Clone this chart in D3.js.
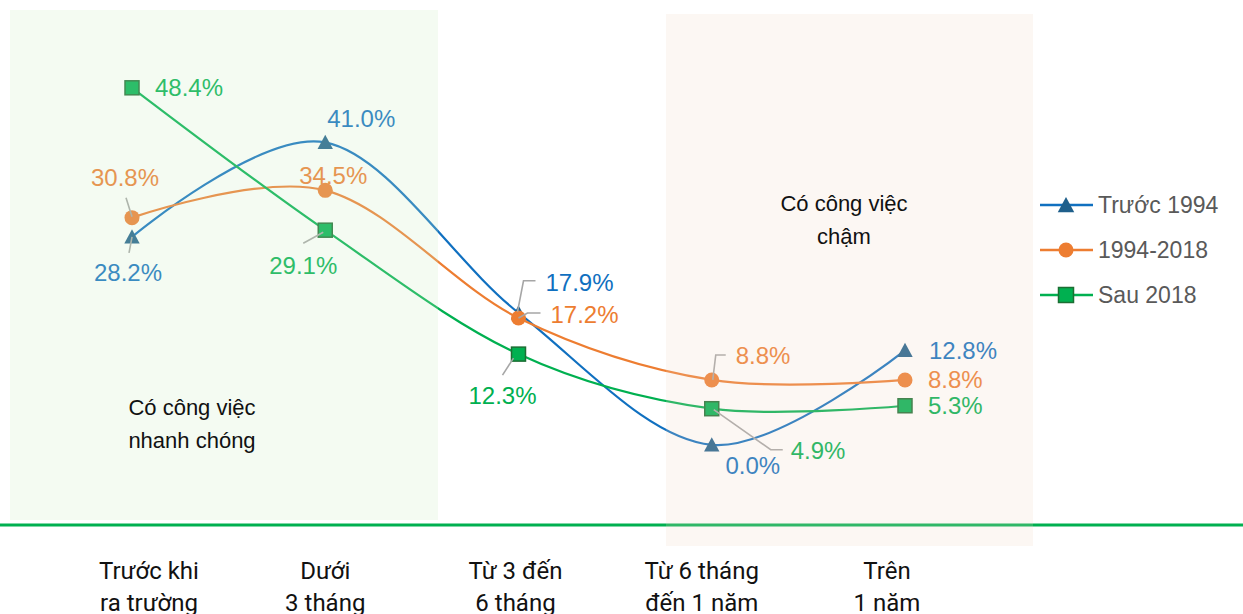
<!DOCTYPE html>
<html>
<head>
<meta charset="utf-8">
<script src="https://cdn.jsdelivr.net/npm/d3@7"></script>
<style>
  body { margin: 0; background: #fff; }
  svg { display: block; font-family: "Liberation Sans", Arial, sans-serif; }
</style>
</head>
<body>
<svg width="1243" height="614"></svg>
<script>
// data (%)
const categories = ['Trước khi\nra trường', 'Dưới\n3 tháng', 'Từ 3 đến\n6 tháng', 'Từ 6 tháng\nđến 1 năm', 'Trên\n1 năm'];
const seriesNames = ['Trước 1994', '1994-2018', 'Sau 2018'];
const truoc1994 = [28.2, 41.0, 17.9, 0.0, 12.8];
const giai1994_2018 = [30.8, 34.5, 17.2, 8.8, 8.8];
const sau2018 = [48.4, 29.1, 12.3, 4.9, 5.3];
const panelTexts = ['Có công việc\nnhanh chóng', 'Có công việc\nchậm'];

// label placement [dx, dy, anchor, leader points relative to marker]
const labelLayout = [
  [[-4, 36, 'middle', [[0, 0], [-3, 16]]], [36, -24, 'middle'], [27, -30, 'start', [[-1, -1], [5, -32], [17, -32]]], [41, 21, 'middle'], [24, 0, 'start']],
  [[-7, -40, 'middle', [[0, -1], [-6, -20]]], [8, -15, 'middle'], [32, -3, 'start', [[0, 0], [9, -5], [22, -5]]], [24, -24, 'start', [[1, 0], [4, -25], [14, -25]]], [23, 0, 'start']],
  [[23, 0, 'start'], [-22, 35, 'middle', [[-2, 2], [-22, 13]]], [-16, 41, 'middle', [[-5, 4], [-16, 21]]], [79, 42, 'start', [[2, 1], [59, 41], [71, 41]]], [23, 0, 'start']]
];

const colors = ['#1070c0', '#ed7d31', '#00b050'];
const markerFill = ['#1f5f8b', '#ed7d31', '#00b050'];
const markerTypes = ['triangle', 'circle', 'square'];

const svg = d3.select('svg');

const xScale = d3.scalePoint().domain(categories).range([132, 905]);
const yScale = d3.scaleLinear().domain([-11, 50]).range([526, 76]);

const allSeries = [truoc1994, giai1994_2018, sau2018].map((values, i) => ({
  name: seriesNames[i],
  color: colors[i],
  values: values.map((v, j) => ({ cat: categories[j], v, layout: labelLayout[i][j] }))
}));

// marker drawing helper
const drawMarker = (sel, type, fill, size) => {
  if (type === 'triangle') {
    const h = size * 0.95, w = size * 1.1;
    sel.append('path').attr('d', `M0,${-h / 2 - 1}L${w / 2},${h / 2}L${-w / 2},${h / 2}Z`).attr('fill', fill);
  } else if (type === 'circle') {
    sel.append('circle').attr('r', size / 2).attr('fill', fill);
  } else {
    sel.append('rect').attr('x', -size / 2).attr('y', -size / 2).attr('width', size).attr('height', size)
      .attr('fill', fill).attr('stroke', '#1c6e33').attr('stroke-width', 1.5);
  }
};

// x axis line
svg.append('line')
  .attr('x1', 0).attr('x2', 1243)
  .attr('y1', yScale(-11) - 1).attr('y2', yScale(-11) - 1)
  .attr('stroke', '#00b050').attr('stroke-width', 3);

const line = d3.line()
  .x(d => xScale(d.cat))
  .y(d => yScale(d.v))
  .curve(d3.curveCardinal.tension(0));

const g = svg.append('g');

allSeries.forEach((s, i) => {
  g.append('path')
    .attr('d', line(s.values))
    .attr('fill', 'none')
    .attr('stroke', s.color)
    .attr('stroke-width', 2.2);
});

allSeries.forEach((s, i) => {
  s.values.forEach(d => {
    const m = g.append('g').attr('transform', `translate(${xScale(d.cat)},${yScale(d.v)})`);
    drawMarker(m, markerTypes[i], markerFill[i], markerTypes[i] === 'circle' ? 15 : 14);
  });
});

// leaders + labels
allSeries.forEach((s, i) => {
  s.values.forEach(d => {
    const x = xScale(d.cat), y = yScale(d.v);
    const [dx, dy, anchor, leader] = d.layout;
    if (leader) {
      g.append('polyline')
        .attr('points', leader.map(p => `${x + p[0]},${y + p[1]}`).join(' '))
        .attr('fill', 'none')
        .attr('stroke', '#a6a6a6')
        .attr('stroke-width', 1.6);
    }
    g.append('text')
      .attr('x', x + dx)
      .attr('y', y + dy)
      .attr('text-anchor', anchor)
      .attr('dominant-baseline', 'central')
      .attr('font-size', 24)
      .attr('fill', s.color)
      .text(d.v.toFixed(1) + '%');
  });
});

// shaded panels sit on top of the lines
svg.append('rect')
  .attr('x', 10).attr('y', 10).attr('width', 428).attr('height', 510)
  .attr('fill', 'rgb(205,235,195)').attr('opacity', 0.22);
svg.append('rect')
  .attr('x', 666).attr('y', 14).attr('width', 367).attr('height', 532)
  .attr('fill', 'rgb(240,215,195)').attr('opacity', 0.2);

const panelPos = [[192, 407], [844, 203]];
panelTexts.forEach((t, i) => {
  const txt = svg.append('text')
    .attr('text-anchor', 'middle')
    .attr('font-size', 22)
    .attr('fill', '#111');
  t.split('\n').forEach((ln, k) => {
    txt.append('tspan')
      .attr('x', panelPos[i][0])
      .attr('y', panelPos[i][1] + k * 33)
      .attr('dominant-baseline', 'central')
      .text(ln);
  });
});

// category labels
const catOffsets = [17, 0, -3, -10, -18];
categories.forEach((c, i) => {
  const txt = svg.append('text')
    .attr('text-anchor', 'middle')
    .attr('font-size', 24)
    .attr('font-family', 'Roboto, sans-serif')
    .attr('fill', '#111');
  c.split('\n').forEach((ln, k) => {
    txt.append('tspan')
      .attr('x', xScale(c) + catOffsets[i])
      .attr('y', 571 + k * 32)
      .attr('dominant-baseline', 'central')
      .text(ln);
  });
});

// legend
const legend = svg.append('g').attr('transform', 'translate(1040,205)');
seriesNames.forEach((name, i) => {
  const row = legend.append('g').attr('transform', `translate(0,${i * 45})`);
  row.append('line').attr('x1', 0).attr('x2', 53).attr('stroke', colors[i]).attr('stroke-width', 2.5);
  const m = row.append('g').attr('transform', 'translate(26,0)');
  drawMarker(m, markerTypes[i], markerFill[i], 15);
  row.append('text')
    .attr('x', 58)
    .attr('dominant-baseline', 'central')
    .attr('font-size', 23)
    .attr('fill', '#595959')
    .text(name);
});
</script>
</body>
</html>
